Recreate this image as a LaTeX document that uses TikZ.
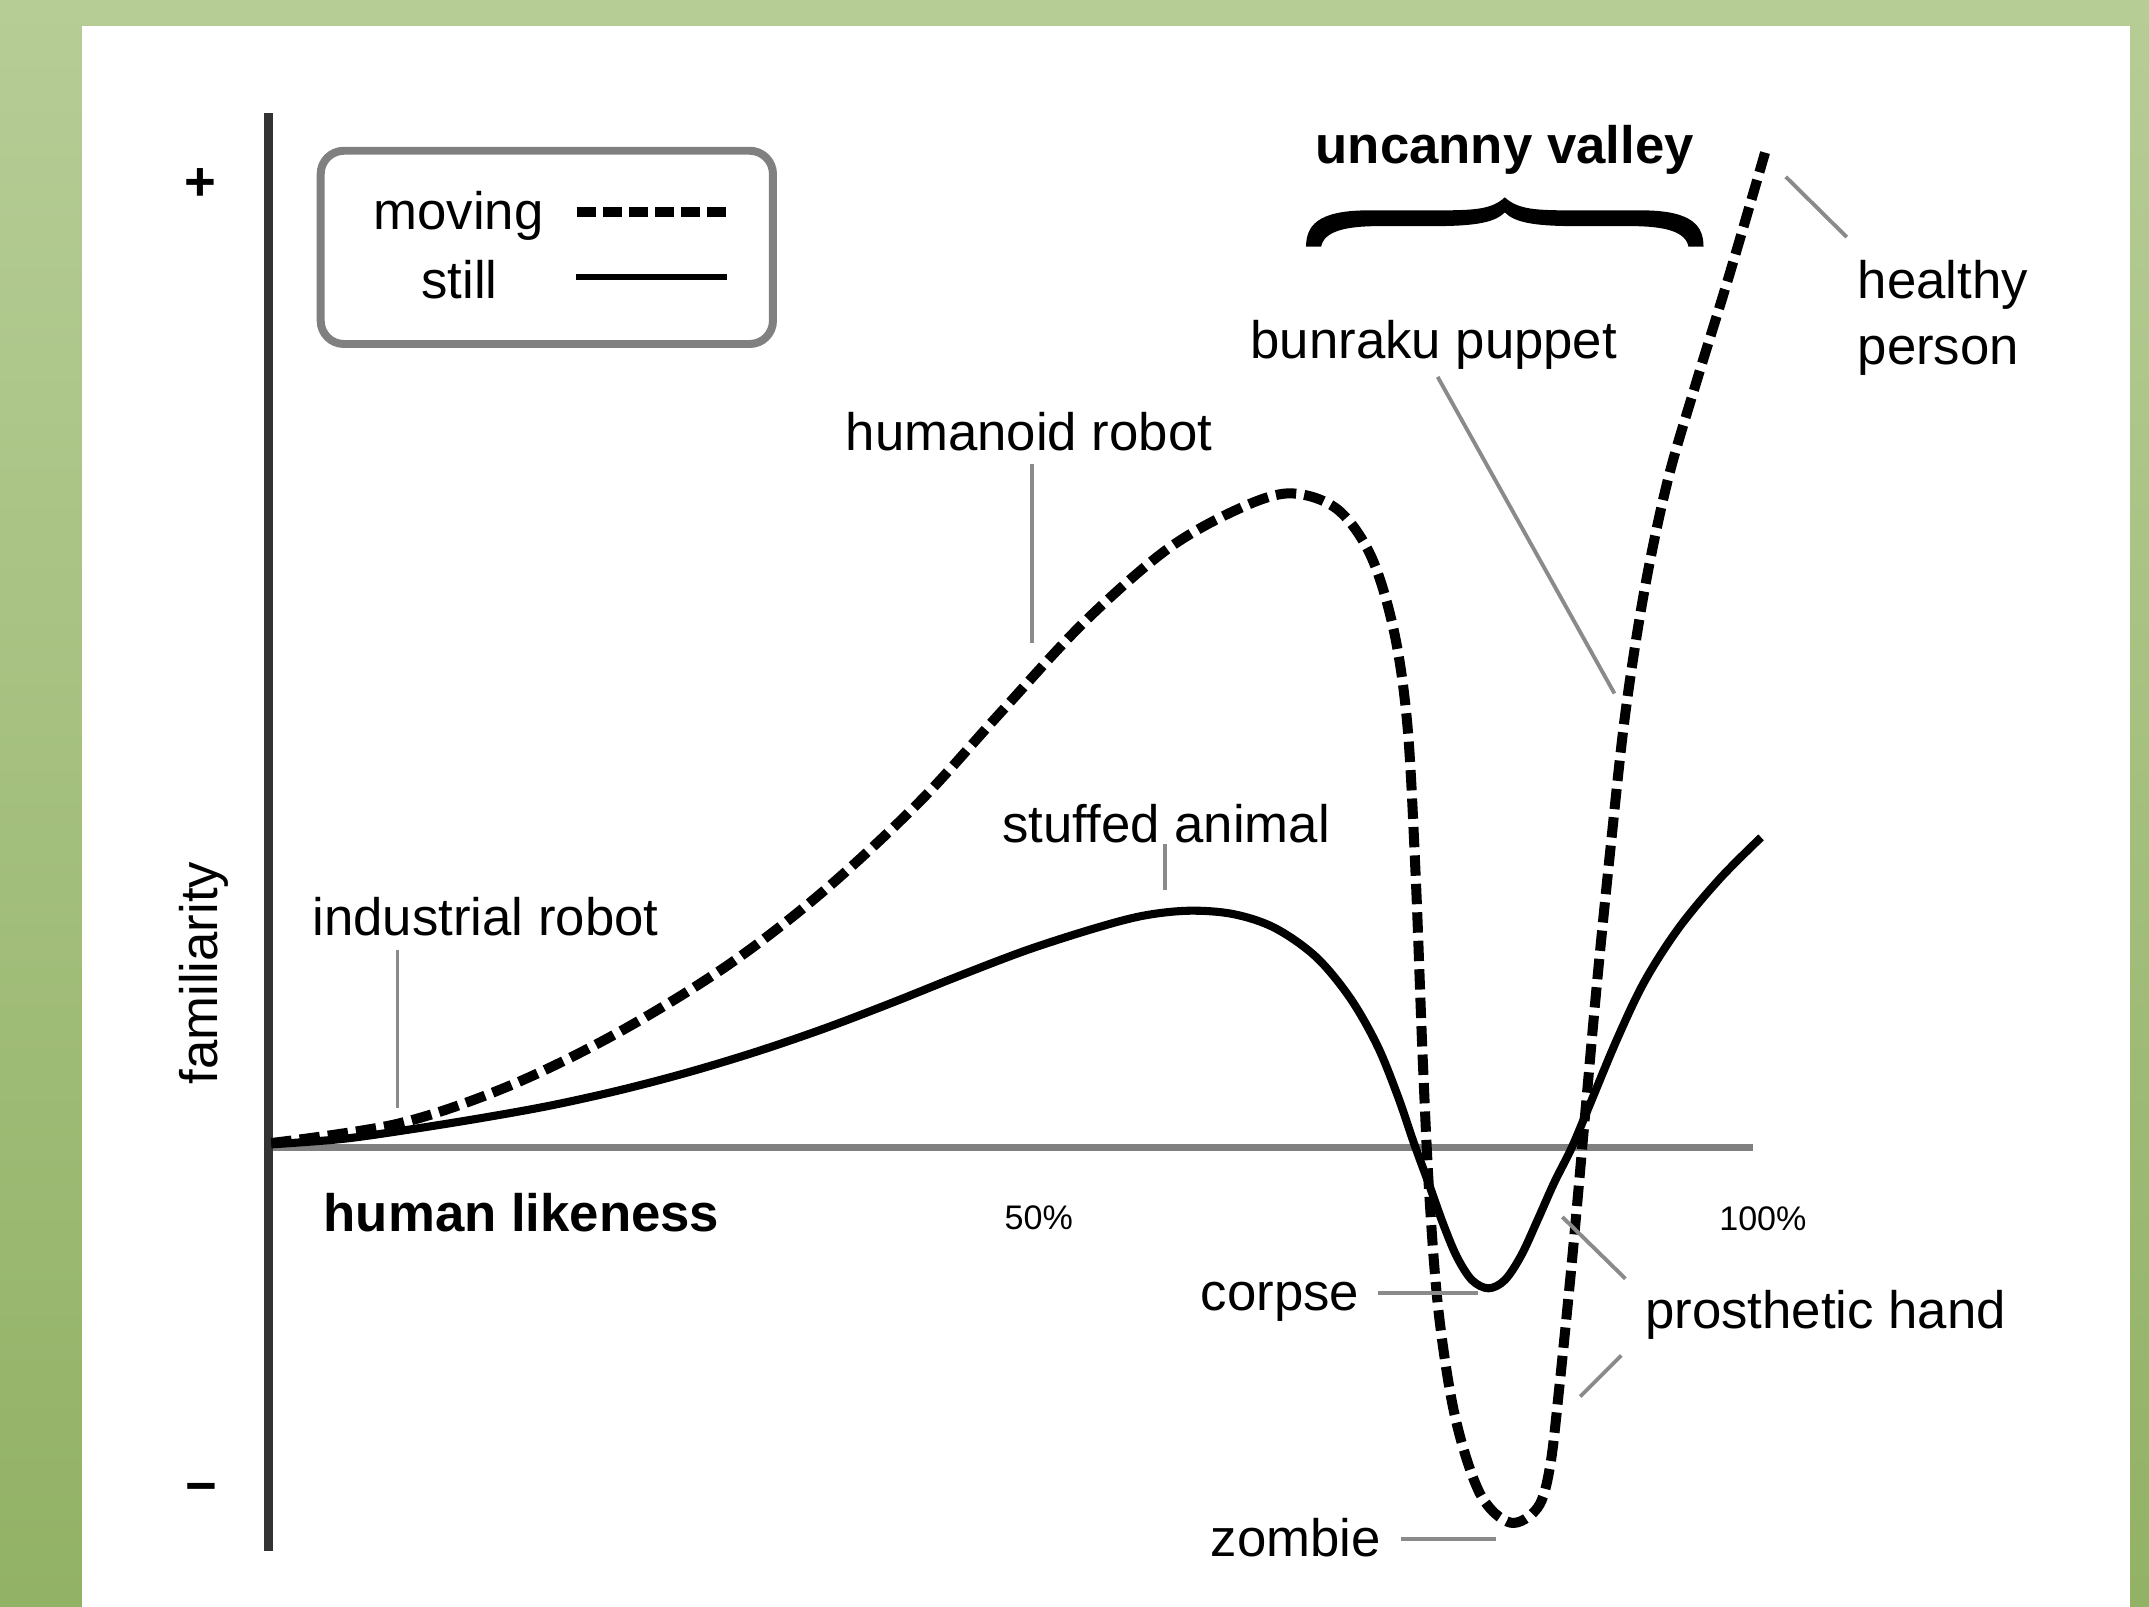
\documentclass[tikz,border=0pt]{standalone}
\usepackage{fontspec}
\setmainfont{Liberation Sans}
\definecolor{bgtop}{HTML}{B6CD96}
\definecolor{bgbot}{HTML}{92B265}
\definecolor{axisdark}{HTML}{333333}
\definecolor{axisgray}{HTML}{808080}
\definecolor{leadgray}{HTML}{8A8A8A}
\begin{document}
\begin{tikzpicture}[x=0.013705cm, y=-0.013705cm,
  lbl/.style={inner sep=0pt, font=\fontsize{15pt}{18pt}\selectfont},
  boldlbl/.style={inner sep=0pt, font=\fontsize{15pt}{18pt}\selectfont\bfseries},
  ticklbl/.style={inner sep=0pt, font=\fontsize{9.7pt}{11pt}\selectfont},
  leader/.style={draw=leadgray, line width=1.1pt},
  movingcurve/.style={line width=2.85pt, dash pattern=on 5.8pt off 2.3pt},
  stillcurve/.style={line width=2.3pt},
]
\useasboundingbox (0,0) rectangle (1568.04,1172.56);
% background
\shade[top color=bgtop, bottom color=bgbot] (0,0) rectangle (1568.04,1172.56);
\fill[white] (59.8,19) rectangle (1554.2,1173);

% axes
\coordinate (origin) at (196,837.5);
\coordinate (xend) at (1279,837.5);
\coordinate (ytop) at (196,82.5);
\coordinate (ybot) at (196,1132);
\draw[axisgray, line width=2.1pt] (origin) -- (xend);
\draw[axisdark, line width=2.6pt] (ytop) -- (ybot);

\node[inner sep=0pt, font=\fontsize{15.5pt}{18pt}\selectfont\bfseries] (plus) at (146,135) {+};
\node[inner sep=0pt, font=\fontsize{15.5pt}{18pt}\selectfont\bfseries] (minus) at (147,1090) {\char"2212};
\node[lbl, rotate=90, anchor=base] (familiarity) at (159,710) {familiarity};

% legend
\draw[axisgray, line width=2.27pt, rounded corners=6.6pt] (234,110) rectangle (564,251);
\node[lbl, anchor=base west] (moving) at (272,167.5) {moving};
\node[lbl, anchor=base west] (still) at (307,218) {still};
\coordinate (lgm1) at (421,154.7);
\coordinate (lgm2) at (532,154.7);
\coordinate (lgs1) at (420,202);
\coordinate (lgs2) at (530.5,202);
\draw[line width=3pt, dash pattern=on 5.4pt off 2pt] (lgm1) -- (lgm2);
\draw[line width=1.8pt] (lgs1) -- (lgs2);

% uncanny valley brace
\node[boldlbl, anchor=base west] (uv) at (959.5,119) {uncanny valley};
\fill (1098,144) .. controls (1108,153) and (1120,153.5) .. (1150,153.5) -- (1200,153.5)
  .. controls (1235,154) and (1243,165) .. (1243,180) -- (1232,180)
  .. controls (1230,169) and (1215,165) .. (1190,165) -- (1150,165)
  .. controls (1118,165) and (1105,162) .. (1098,155)
  .. controls (1091,162) and (1078,165) .. (1046,165) -- (1006,165)
  .. controls (981,165) and (966,169) .. (964,180) -- (953,180)
  .. controls (953,165) and (961,154) .. (996,153.5) -- (1046,153.5)
  .. controls (1076,153.5) and (1088,153) .. (1098,144) -- cycle;

% still curve
\draw[stillcurve] plot[smooth, tension=0.55] coordinates {
 (198,835) (250,831) (300,824) (350,816) (400,807) (450,796) (500,783) (550,768)
 (600,751) (650,732) (700,712) (750,693) (800,677) (835,668) (868,664.5) (900,667)
 (930,677) (960,698) (985,728) (1005,763) (1020,800) (1032,835) (1043,865)
 (1053,893) (1063,917) (1074,934) (1086,940) (1098,934) (1110,916) (1122,890)
 (1134,863) (1147,837) (1160,806) (1180,758) (1200,716) (1225,677) (1255,641)
 (1285,611)};

% moving curve
\draw[movingcurve] plot[smooth, tension=0.55] coordinates {
 (198,834) (290,820) (370,793) (450,754) (530,705) (600,651) (670,586) (730,520)
 (790,455) (850,402) (900,373) (940,360) (975,371) (1000,405) (1017,460)
 (1027,530) (1033,640) (1038,770) (1043,873) (1050,960) (1062,1035) (1080,1090)
 (1102,1111) (1122,1100) (1131,1070) (1138,1010) (1147,920) (1156,820)
 (1165,720) (1175,620) (1186,520) (1200,430) (1217,350) (1238,278) (1262,200)
 (1288,111)};

% labels
\node[lbl, anchor=base west] (industrial) at (227.6,682.5) {industrial robot};
\node[lbl, anchor=base west] (humanoid) at (616.6,328.5) {humanoid robot};
\node[lbl, anchor=base west] (stuffed) at (731,614.5) {stuffed animal};
\node[lbl, anchor=base west] (bunraku) at (912,261.5) {bunraku puppet};
\node[lbl, anchor=base west] (healthy) at (1355,218) {healthy};
\node[lbl, anchor=base west] (person) at (1355,266) {person};
\node[boldlbl, anchor=base west] (likeness) at (235.7,898.5) {human likeness};
\node[ticklbl, anchor=base] (fifty) at (758,897) {50\%};
\node[ticklbl, anchor=base west] (hundred) at (1254,898) {100\%};
\node[lbl, anchor=base west] (corpse) at (875.7,956) {corpse};
\node[lbl, anchor=base west] (prosthetic) at (1200,969) {prosthetic hand};
\node[lbl, anchor=base west] (zombie) at (883,1136) {zombie};

% leader lines
\coordinate (ind1) at (290,693);   \coordinate (ind2) at (290,808.6);
\coordinate (hum1) at (753,338.6); \coordinate (hum2) at (753,469);
\coordinate (stf1) at (850,616);   \coordinate (stf2) at (850,649.5);
\coordinate (bun1) at (1049,275);  \coordinate (bun2) at (1178,506);
\coordinate (hea1) at (1347.5,173);\coordinate (hea2) at (1303,129);
\coordinate (cor1) at (1005.5,943.5); \coordinate (cor2) at (1078.6,943.5);
\coordinate (zom1) at (1022,1123); \coordinate (zom2) at (1091.6,1123);
\coordinate (pra1) at (1186,933);  \coordinate (pra2) at (1140,888);
\coordinate (prb1) at (1183,989);  \coordinate (prb2) at (1153,1019);
\draw[leader] (ind1) -- (ind2);
\draw[leader] (hum1) -- (hum2);
\draw[leader] (stf1) -- (stf2);
\draw[leader] (bun1) -- (bun2);
\draw[leader] (hea1) -- (hea2);
\draw[leader] (cor1) -- (cor2);
\draw[leader] (zom1) -- (zom2);
\draw[leader] (pra1) -- (pra2);
\draw[leader] (prb1) -- (prb2);
\end{tikzpicture}
\end{document}
